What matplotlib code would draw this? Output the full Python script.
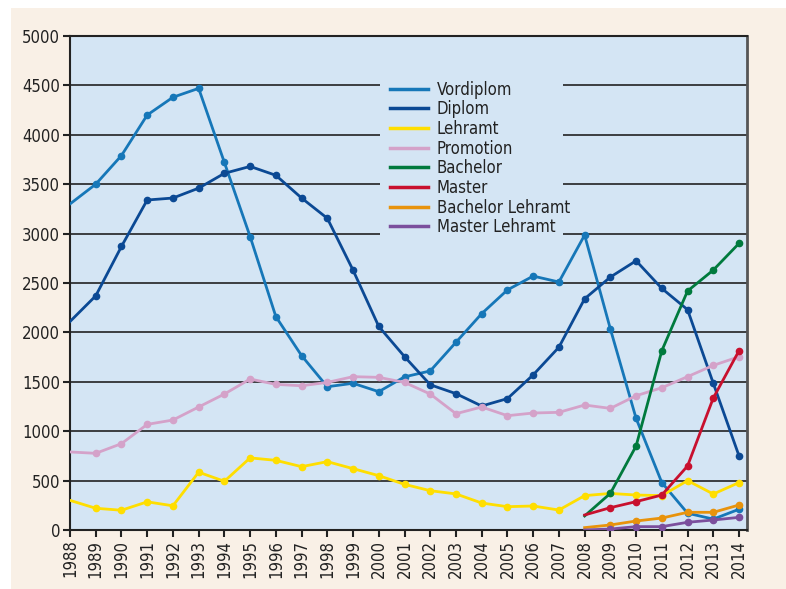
import matplotlib
matplotlib.use("Agg")
import matplotlib.pyplot as plt
from matplotlib.patches import Rectangle
from matplotlib.lines import Line2D

# Daten
jahre = list(range(1988, 2015))
jahre_neu = list(range(2008, 2015))

vordiplom = [3300, 3500, 3790, 4200, 4380, 4470, 3720, 2970, 2160, 1765, 1450,
             1485, 1400, 1550, 1610, 1900, 2190, 2430, 2570, 2510, 2985, 2035,
             1130, 480, 170, 110, 210]
diplom = [2110, 2370, 2870, 3340, 3360, 3460, 3610, 3680, 3590, 3360, 3155,
          2630, 2060, 1755, 1470, 1380, 1255, 1330, 1570, 1850, 2340, 2560,
          2725, 2445, 2230, 1485, 750]
lehramt = [300, 220, 200, 285, 245, 585, 493, 730, 705, 641, 692, 621, 550,
           462, 398, 365, 273, 236, 243, 202, 348, 370, 354, 348, 500, 364, 480]
promotion = [790, 776, 874, 1069, 1113, 1245, 1376, 1528, 1474, 1460, 1494,
             1552, 1545, 1494, 1376, 1177, 1245, 1157, 1184, 1191, 1265, 1231,
             1359, 1440, 1552, 1666, 1754]
bachelor = [142, 371, 850, 1815, 2419, 2631, 2901]
master = [152, 226, 287, 354, 648, 1336, 1815]
bachelor_lehramt = [24, 51, 91, 121, 179, 179, 253]
master_lehramt = [0, 10, 34, 34, 78, 101, 128]

serien = [
    ("Vordiplom", jahre, vordiplom, "#1677b8"),
    ("Diplom", jahre, diplom, "#0b4994"),
    ("Lehramt", jahre, lehramt, "#ffde00"),
    ("Promotion", jahre, promotion, "#d4a2c9"),
    ("Bachelor", jahre_neu, bachelor, "#007a3d"),
    ("Master", jahre_neu, master, "#c8102e"),
    ("Bachelor Lehramt", jahre_neu, bachelor_lehramt, "#e8930c"),
    ("Master Lehramt", jahre_neu, master_lehramt, "#7b4f9d"),
]

plt.rcParams['font.family'] = ['DejaVu Sans']
plt.rcParams['font.stretch'] = 'condensed'

fig = plt.figure(figsize=(7.86, 5.89), dpi=100, facecolor="white")
# cremefarbener Hintergrund
fig.patches.append(Rectangle((11 / 786, 0), 1, 1 - 8 / 589, transform=fig.transFigure,
                             facecolor="#f9f0e6", edgecolor="none", zorder=-10))

ax = fig.add_axes([70 / 786, 1 - 530 / 589, 677 / 786, 494 / 589])
ax.set_facecolor("#d4e5f4")

griffe = []
for name, x, y, farbe in serien:
    ax.plot(x, y, color=farbe, lw=2.0, marker="o", markersize=4.5,
            markevery=slice(1, None), zorder=3)
    griffe.append(Line2D([], [], color=farbe, lw=2.5, label=name))

ax.set_xlim(1988, 2014.31)
ax.set_ylim(0, 5000)
ax.set_yticks(range(0, 5001, 500))
ax.set_xticks(jahre)
ax.set_xticklabels([str(j) for j in jahre], rotation=90)

ax.grid(axis="y", color="#222222", lw=1.2, zorder=1)
ax.set_axisbelow(True)

for s in ["left", "bottom", "top"]:
    ax.spines[s].set_color("#222222")
    ax.spines[s].set_linewidth(1.5)
ax.spines["right"].set_color("#555555")
ax.spines["right"].set_linewidth(2)

ax.tick_params(axis="both", direction="out", colors="#222222", labelsize=12,
               length=5, width=1.5, pad=2)

leg = ax.legend(handles=griffe, loc="upper left", bbox_to_anchor=(0.458, 0.93, 0.27, 0.0),
                mode="expand", frameon=True, facecolor="#d4e5f4", edgecolor="none",
                framealpha=1, fontsize=12, handlelength=2.3, handletextpad=0.5,
                labelspacing=0.1, borderaxespad=0, borderpad=0.6, fancybox=False)
leg.set_zorder(2)
for t in leg.get_texts():
    t.set_color("#222222")

fig.savefig("out.png", dpi=100, facecolor=fig.get_facecolor())
